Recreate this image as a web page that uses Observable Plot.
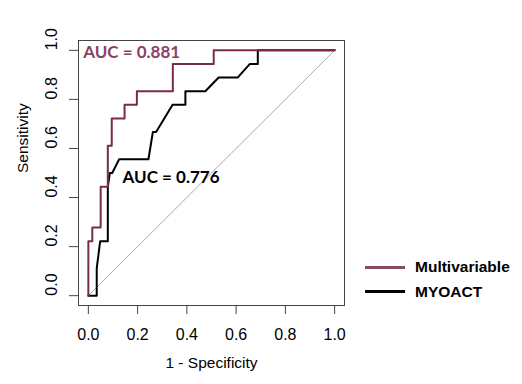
<!DOCTYPE html>
<html>
<head>
<meta charset="utf-8">
<script src="https://cdn.jsdelivr.net/npm/d3@7"></script>
<script src="https://cdn.jsdelivr.net/npm/@observablehq/plot@0.6"></script>
<style>
  body { margin: 0; background: #fff; }
  #wrap { position: relative; width: 522px; height: 384px; }
  #legend { position: absolute; left: 365px; top: 255px; font-family: "Liberation Sans", Arial, sans-serif; font-weight: bold; font-size: 15.5px; color: #000; }
  .item { display: flex; align-items: center; height: 24.5px; }
  .sw { width: 40px; height: 0; border-top: 3px solid; margin-right: 10px; }
</style>
</head>
<body>
<div id="wrap"></div>
<script>
// Multivariable ROC curve (1 - specificity, sensitivity)
const multiFpr  = [0, 0, 0.016, 0.016, 0.05, 0.05, 0.079, 0.079, 0.095, 0.095, 0.147, 0.147, 0.197, 0.197, 0.343, 0.343, 0.509, 0.509, 1];
const multiSens = [0, 0.222, 0.222, 0.278, 0.278, 0.444, 0.444, 0.611, 0.611, 0.722, 0.722, 0.778, 0.778, 0.833, 0.833, 0.944, 0.944, 1, 1];
// MYOACT ROC curve
const myoFpr  = [0, 0.034, 0.034, 0.048, 0.079, 0.079, 0.087, 0.097, 0.125, 0.244, 0.262, 0.275, 0.342, 0.394, 0.394, 0.475, 0.529, 0.606, 0.655, 0.688, 0.688, 1];
const myoSens = [0, 0, 0.111, 0.222, 0.222, 0.444, 0.5, 0.5, 0.556, 0.556, 0.667, 0.667, 0.778, 0.778, 0.833, 0.833, 0.889, 0.889, 0.944, 0.944, 1, 1];
const seriesNames = ["Multivariable", "MYOACT"];
const aucTexts = ["AUC = 0.881", "AUC = 0.776"];
const xTicks = [0, 0.2, 0.4, 0.6, 0.8, 1.0];
const yTicks = [0, 0.2, 0.4, 0.6, 0.8, 1.0];
const diagFpr = [0, 1];
const diagSens = [0, 1];

const multiColor = "#7a2a4c";
const multiText = "#8a4264";

const multi = multiFpr.map((x, i) => ({x, y: multiSens[i]}));
const myo = myoFpr.map((x, i) => ({x, y: myoSens[i]}));
const diag = diagFpr.map((x, i) => ({x, y: diagSens[i]}));
const fmt = d3.format(".1f");

const chart = Plot.plot({
  width: 522,
  height: 384,
  marginLeft: 78,
  marginRight: 178,
  marginTop: 40,
  marginBottom: 79,
  style: { fontFamily: "'Liberation Sans', Arial, sans-serif", fontSize: "15.5px", background: "#fff", color: "#000" },
  x: { domain: [-0.04, 1.04] },
  y: { domain: [-0.04, 1.04] },
  marks: [
    Plot.line(diag, { x: "x", y: "y", stroke: "#aaa", strokeWidth: 1 }),
    Plot.line(myo, { x: "x", y: "y", stroke: "#000", strokeWidth: 2 }),
    Plot.line(multi, { x: "x", y: "y", stroke: multiColor, strokeWidth: 2 }),
    Plot.frame({ stroke: "#444" }),
    Plot.axisX({ ticks: xTicks, tickFormat: fmt, tickSize: 9, tickPadding: 14, label: null, stroke: "#444", fontSize: 16 }),
    Plot.axisY({ ticks: yTicks, tickSize: 9, text: null, label: null, stroke: "#444" }),
    Plot.text(yTicks, { y: d => d, frameAnchor: "left", dx: -27, rotate: -90, text: d => fmt(d), fontSize: 16 }),
    Plot.text(["1 - Specificity"], { frameAnchor: "bottom", dy: 62, text: d => d }),
    Plot.text(["Sensitivity"], { frameAnchor: "left", dx: -55, rotate: -90, text: d => d }),
    Plot.text([aucTexts[0]], { x: -0.021, y: 0.99, text: d => d, textAnchor: "start", fill: multiText, fontWeight: "bold", fontFamily: "Lato, sans-serif", fontSize: 17 }),
    Plot.text([aucTexts[1]], { x: 0.139, y: 0.48, text: d => d, textAnchor: "start", fill: "#000", fontWeight: "bold", fontFamily: "Lato, sans-serif", fontSize: 17 })
  ]
});

const wrap = document.getElementById("wrap");
wrap.appendChild(chart);
const legend = document.createElement("div");
legend.id = "legend";
[[seriesNames[0], "#8a4a66"], [seriesNames[1], "#000"]].forEach(([name, c]) => {
  const it = document.createElement("div");
  it.className = "item";
  const sw = document.createElement("span");
  sw.className = "sw";
  sw.style.borderTopColor = c;
  const t = document.createElement("span");
  t.textContent = name;
  it.appendChild(sw); it.appendChild(t);
  legend.appendChild(it);
});
wrap.appendChild(legend);
</script>
</body>
</html>
